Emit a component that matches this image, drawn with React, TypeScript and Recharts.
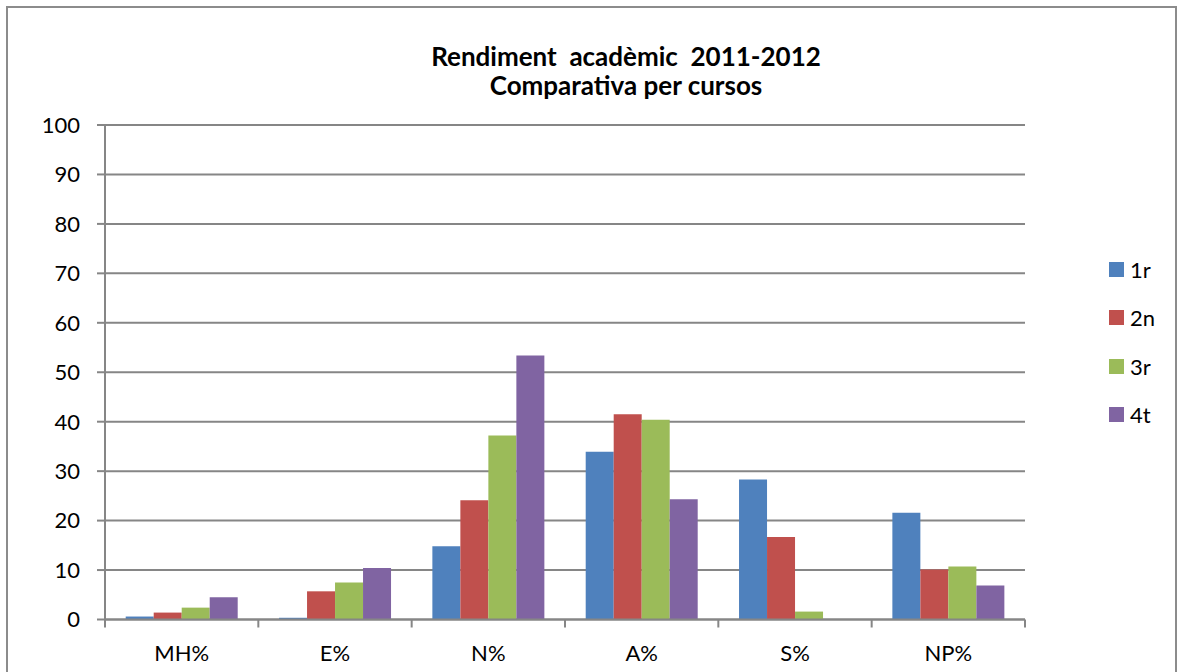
import { BarChart, Bar, XAxis, YAxis, CartesianGrid } from 'recharts';

const categories = ['MH%', 'E%', 'N%', 'A%', 'S%', 'NP%'];
const primer = [0.6, 0.35, 14.8, 33.9, 28.3, 21.6];
const segon = [1.4, 5.7, 24.1, 41.5, 16.7, 10.1];
const tercer = [2.4, 7.5, 37.2, 40.4, 1.6, 10.7];
const quart = [4.5, 10.4, 53.4, 24.3, 0, 6.9];
const yTicks = [0, 10, 20, 30, 40, 50, 60, 70, 80, 90, 100];

const series = [
  { key: 'r1', name: '1r', values: primer, color: '#4F81BD' },
  { key: 'r2', name: '2n', values: segon, color: '#C0504D' },
  { key: 'r3', name: '3r', values: tercer, color: '#9BBB59' },
  { key: 'r4', name: '4t', values: quart, color: '#8064A2' },
];

const data = categories.map((cat, i) => {
  const row: Record<string, string | number> = { cat };
  series.forEach((s) => {
    row[s.key] = s.values[i];
  });
  return row;
});

const FONT = 'Lato, "Open Sans", sans-serif';
const GRID = '#868686';
const TICK_FONT = 22;

// label centred in the band, tick mark on the band boundary (Excel style)
function CategoryTick(props: any) {
  const { x, y, payload, index } = props;
  const half = payload?.offset ?? 920 / categories.length / 2;
  return (
    <g>
      <line x1={x - half} x2={x - half} y1={y - 8} y2={y} stroke={GRID} strokeWidth={2} />
      {index === categories.length - 1 && (
        <line x1={x + half} x2={x + half} y1={y - 8} y2={y} stroke={GRID} strokeWidth={2} />
      )}
      <text x={x} y={y + 33} textAnchor="middle" fontSize={TICK_FONT} fontFamily={FONT} fill="#000">
        {payload.value}
      </text>
    </g>
  );
}

function LegendBox() {
  return (
    <div
      style={{
        position: 'absolute',
        left: 1109,
        top: 245,
        fontFamily: FONT,
        fontSize: TICK_FONT,
        color: '#000',
      }}
    >
      {series.map((s) => (
        <div key={s.key} style={{ display: 'flex', alignItems: 'center', height: 48.5 }}>
          <span style={{ width: 15, height: 15, background: s.color, marginRight: 6, display: 'inline-block' }} />
          <span>{s.name}</span>
        </div>
      ))}
    </div>
  );
}

export default function App() {
  return (
    <div style={{ position: 'absolute', left: 0, top: 0, width: 1180, height: 672, background: '#fff', overflow: 'hidden' }}>
      <div
        style={{
          position: 'absolute',
          left: 6,
          top: 6,
          width: 1167,
          height: 700,
          border: '2px solid #8c8c8c',
        }}
      />
      <div
        style={{
          position: 'absolute',
          left: 276,
          width: 700,
          top: 42,
          textAlign: 'center',
          fontFamily: FONT,
          fontWeight: 'bold',
          fontSize: 26,
          lineHeight: '29px',
          color: '#000',
          whiteSpace: 'pre',
        }}
      >
        <div>{'Rendiment  acadèmic  2011-2012'}</div>
        <div>Comparativa per cursos</div>
      </div>
      <BarChart
        width={1180}
        height={672}
        data={data}
        margin={{ top: 125, right: 155, bottom: 12.5, left: 5 }}
        barCategoryGap="13.5%"
        barGap={0}
        style={{ position: 'absolute', left: 0, top: 0 }}
      >
        <CartesianGrid horizontal vertical={false} stroke={GRID} strokeWidth={2} />
        <XAxis
          dataKey="cat"
          height={40}
          interval={0}
          tickSize={8}
          tickMargin={0}
          tickLine={false}
          axisLine={{ stroke: GRID, strokeWidth: 2 }}
          tick={<CategoryTick />}
        />
        <YAxis
          width={100}
          domain={[0, 100]}
          ticks={yTicks}
          interval={0}
          tickSize={8}
          tickMargin={17}
          axisLine={{ stroke: GRID, strokeWidth: 2 }}
          tickLine={{ stroke: GRID, strokeWidth: 2 }}
          tick={{ fill: '#000', fontSize: TICK_FONT, fontFamily: FONT }}
        />
        {series.map((s) => (
          <Bar key={s.key} dataKey={s.key} name={s.name} fill={s.color} isAnimationActive={false} />
        ))}
      </BarChart>
      <LegendBox />
    </div>
  );
}
